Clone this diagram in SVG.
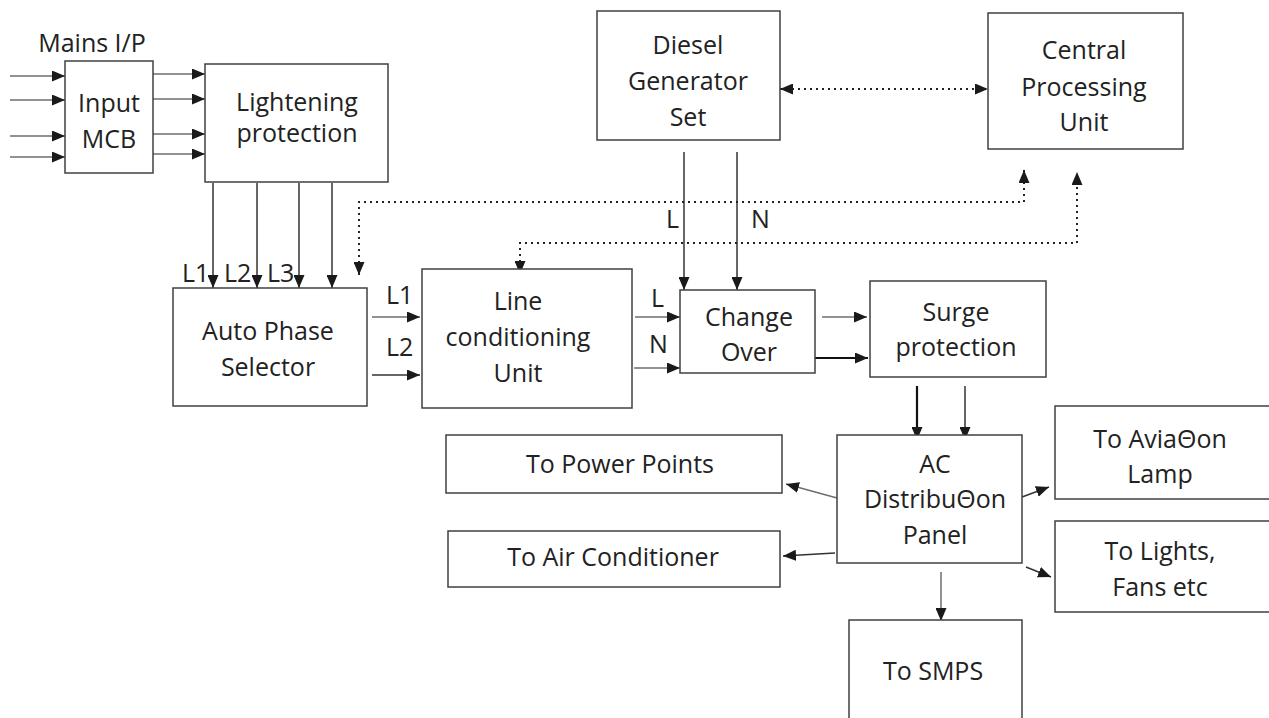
<svg xmlns="http://www.w3.org/2000/svg" width="1269" height="718" viewBox="0 0 1269 718">
<defs>
<style>
.box{fill:#fff;stroke:#404040;stroke-width:1.5}
.t{font-family:"Open Sans","Liberation Sans",sans-serif;font-size:25px;fill:#222;text-anchor:middle}
.ts{font-family:"Open Sans","Liberation Sans",sans-serif;font-size:25px;fill:#222}
.w{fill:none;stroke:#333;stroke-width:1.5;marker-end:url(#ah)}
.g{fill:none;stroke:#6e6e6e;stroke-width:1.5;marker-end:url(#ah)}
.k{fill:none;stroke:#111;stroke-width:2.2;marker-end:url(#ah)}
.d{fill:none;stroke:#222;stroke-width:2;stroke-dasharray:2 4;marker-start:url(#ah2);marker-end:url(#ah)}
</style>
<marker id="ah" markerWidth="13" markerHeight="11" refX="13" refY="5.5" orient="auto" markerUnits="userSpaceOnUse"><path d="M0,0 L13,5.5 L0,11 z" fill="#1a1a1a"/></marker>
<marker id="ah2" markerWidth="13" markerHeight="11" refX="13" refY="5.5" orient="auto-start-reverse" markerUnits="userSpaceOnUse"><path d="M0,0 L13,5.5 L0,11 z" fill="#1a1a1a"/></marker>
</defs>
<rect width="1269" height="718" fill="#fff"/>

<g id="connectors">
<path class="g" d="M10,76 H65"/>
<path class="g" d="M10,100 H65"/>
<path class="g" d="M10,136 H65"/>
<path class="g" d="M10,157 H65"/>
<path class="g" d="M153,74 H205"/>
<path class="g" d="M153,99 H205"/>
<path class="g" d="M153,134 H205"/>
<path class="g" d="M153,154 H205"/>
<path class="w" d="M213,183 V288"/>
<path class="w" d="M257,183 V288"/>
<path class="w" d="M299,183 V288"/>
<path class="w" d="M332,183 V288"/>
<path class="g" d="M372,317 H420"/>
<path class="w" d="M372,375 H420"/>
<path class="g" d="M635,317 H680"/>
<path class="g" d="M634,368 H680"/>
<path class="w" d="M684,152 V290"/>
<path class="w" d="M737,152 V290"/>
<path class="g" d="M822,317 H867"/>
<path class="k" d="M815,358 H868"/>
<path class="k" d="M917,386 V440"/>
<path class="w" d="M965,386 V440"/>
<path class="g" d="M837,498 L786,484"/>
<path class="w" d="M835,553 L783,556"/>
<path class="w" d="M1022,497 L1049,487"/>
<path class="w" d="M1026,567 L1051,577"/>
<path class="g" d="M941,572 V621"/>
<path class="d" d="M780,89 H988"/>
<path class="d" d="M359,275 V202 H1024 V170"/>
<path class="d" d="M520,274 V243 H1077 V172"/>
<text class="ts" x="182" y="282">L1</text>
<text class="ts" x="224" y="282">L2</text>
<text class="ts" x="267" y="282">L3</text>
<text class="ts" x="386" y="304">L1</text>
<text class="ts" x="386" y="356">L2</text>
<text class="ts" x="651" y="307">L</text>
<text class="ts" x="649" y="353">N</text>
<text class="ts" x="666" y="228">L</text>
<text class="ts" x="751" y="228">N</text>
</g>

<g id="mains-label"><text class="t" x="92" y="52">Mains I/P</text></g>

<g id="input-mcb">
<rect class="box" x="65" y="61" width="88" height="112"/>
<text class="t" x="109" y="112">Input</text>
<text class="t" x="109" y="148">MCB</text>
</g>

<g id="lightening">
<rect class="box" x="205" y="64" width="183" height="118"/>
<text class="t" x="297" y="111">Lightening</text>
<text class="t" x="297" y="142">protection</text>
</g>

<g id="diesel">
<rect class="box" x="597" y="11" width="183" height="129"/>
<text class="t" x="688" y="54">Diesel</text>
<text class="t" x="688" y="90">Generator</text>
<text class="t" x="688" y="126">Set</text>
</g>

<g id="cpu">
<rect class="box" x="988" y="13" width="195" height="136"/>
<text class="t" x="1084" y="59">Central</text>
<text class="t" x="1084" y="96">Processing</text>
<text class="t" x="1084" y="131">Unit</text>
</g>

<g id="aps">
<rect class="box" x="173" y="288" width="194" height="118"/>
<text class="t" x="268" y="340">Auto Phase</text>
<text class="t" x="268" y="376">Selector</text>
</g>

<g id="lcu">
<rect class="box" x="422" y="269" width="210" height="139"/>
<text class="t" x="518" y="310">Line</text>
<text class="t" x="518" y="346">conditioning</text>
<text class="t" x="518" y="382">Unit</text>
</g>

<g id="changeover">
<rect class="box" x="680" y="290" width="135" height="83"/>
<text class="t" x="749" y="326">Change</text>
<text class="t" x="749" y="361">Over</text>
</g>

<g id="surge">
<rect class="box" x="870" y="281" width="176" height="96"/>
<text class="t" x="956" y="321">Surge</text>
<text class="t" x="956" y="356">protection</text>
</g>

<g id="acdp">
<rect class="box" x="837" y="435" width="185" height="128"/>
<text class="t" x="935" y="473">AC</text>
<text class="t" x="935" y="508">DistribuΘon</text>
<text class="t" x="935" y="544">Panel</text>
</g>

<g id="power-points">
<rect class="box" x="446" y="435" width="336" height="58"/>
<text class="t" x="620" y="473">To Power Points</text>
</g>

<g id="air-conditioner">
<rect class="box" x="448" y="531" width="332" height="56"/>
<text class="t" x="613" y="566">To Air Conditioner</text>
</g>

<g id="aviation">
<rect class="box" x="1055" y="406" width="222" height="93"/>
<text class="t" x="1160" y="448">To AviaΘon</text>
<text class="t" x="1160" y="483">Lamp</text>
</g>

<g id="lights">
<rect class="box" x="1055" y="521" width="222" height="91"/>
<text class="t" x="1160" y="560">To Lights,</text>
<text class="t" x="1160" y="596">Fans etc</text>
</g>

<g id="smps">
<rect class="box" x="849" y="620" width="173" height="110"/>
<text class="t" x="933" y="680">To SMPS</text>
</g>
</svg>
